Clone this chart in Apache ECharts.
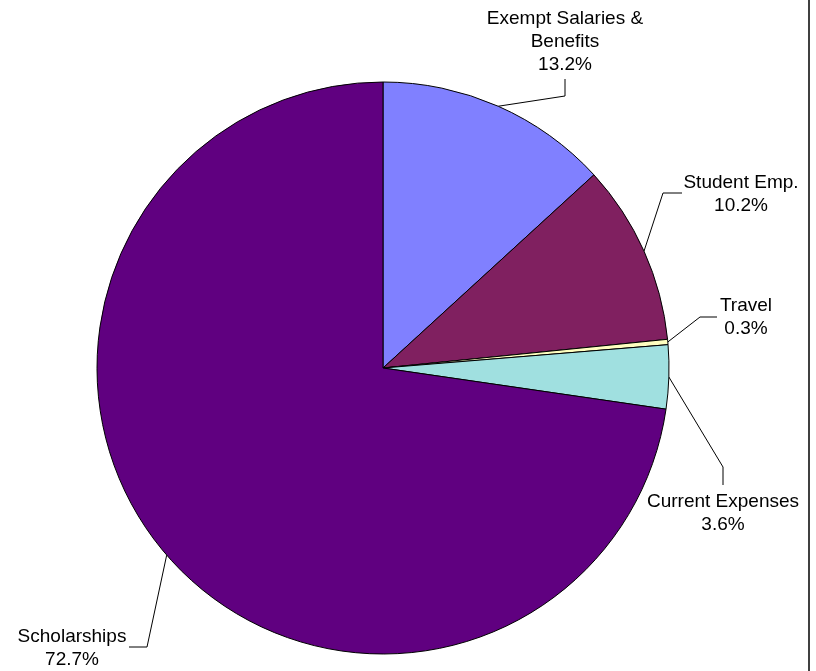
<!DOCTYPE html>
<html>
<head>
<meta charset="utf-8">
<script src="https://cdn.jsdelivr.net/npm/echarts@6/dist/echarts.min.js"></script>
<style>
html,body{margin:0;padding:0;background:#fff;}
#chart{width:816px;height:671px;}
</style>
</head>
<body>
<div id="chart"></div>
<script>
const categories = ['Exempt Salaries & Benefits', 'Student Emp.', 'Travel', 'Current Expenses', 'Scholarships'];
const values = [13.2, 10.2, 0.3, 3.6, 72.7];
const colors = ['#8080FF', '#802060', '#FFFFC0', '#A0E0E0', '#600080'];

// label placement (text block center) and leader elbow/end points
const labelPlacement = [
  { x: 565, y: 42, elbow: [565, 96], end: [565, 79] },
  { x: 741, y: 194, elbow: [663, 193], end: [682, 193] },
  { x: 746, y: 317, elbow: [700, 317], end: [717, 317] },
  { x: 723, y: 513, elbow: [723, 467], end: [723, 485] },
  { x: 72, y: 648, elbow: [147, 647], end: [129, 647] }
];

const chart = echarts.init(document.getElementById('chart'));
chart.setOption({
  backgroundColor: '#ffffff',
  animation: false,
  graphic: [{
    type: 'line',
    shape: { x1: 809, y1: 0, x2: 809, y2: 671 },
    style: { stroke: '#000', lineWidth: 1.5 }
  }],
  series: [{
    type: 'pie',
    center: [383, 368],
    radius: 286,
    startAngle: 90,
    clockwise: true,
    avoidLabelOverlap: false,
    data: categories.map((c, i) => ({ name: c, value: values[i], itemStyle: { color: colors[i] } })),
    itemStyle: { borderColor: '#000', borderWidth: 1 },
    label: {
      show: true,
      formatter: p => p.name.replace('& ', '&\n') + '\n' + p.value.toFixed(1) + '%',
      fontFamily: 'Liberation Sans, Arial, sans-serif',
      fontSize: 19,
      lineHeight: 23,
      color: '#000',
      align: 'center'
    },
    labelLine: { show: true, length: 20, length2: 20, lineStyle: { color: '#000', width: 1 } },
    labelLayout: function (params) {
      const lp = labelPlacement[params.dataIndex];
      const start = params.labelLinePoints ? params.labelLinePoints[0] : lp.elbow;
      return {
        x: lp.x,
        y: lp.y,
        align: 'center',
        verticalAlign: 'middle',
        labelLinePoints: [start, lp.elbow, lp.end]
      };
    },
    emphasis: { disabled: true }
  }]
});
</script>
</body>
</html>
